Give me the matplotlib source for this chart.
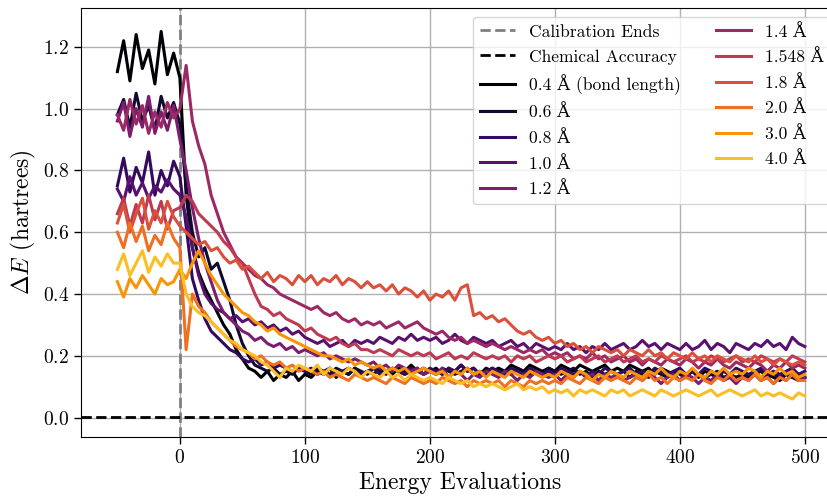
import numpy as np
import matplotlib
matplotlib.use("Agg")
import matplotlib.pyplot as plt

plt.rcParams['font.family'] = ['cmr10', 'DejaVu Serif']
plt.rcParams['mathtext.fontset'] = 'cm'
plt.rcParams['axes.unicode_minus'] = False
plt.rcParams['axes.formatter.use_mathtext'] = True

# Energy evaluations (calibration runs from -50 to 0)
evals = np.arange(-50, 501, 5)

labels = ['0.4 Å (bond length)', '0.6 Å', '0.8 Å', '1.0 Å', '1.2 Å',
          '1.4 Å', '1.548 Å', '1.8 Å', '2.0 Å', '3.0 Å', '4.0 Å']

d04 = [1.12, 1.22, 1.09, 1.24, 1.13, 1.19, 1.08, 1.25, 1.11, 1.18,
       1.10, 0.72, 0.55, 0.47, 0.42, 0.38, 0.34, 0.30, 0.27, 0.22,
       0.19, 0.16, 0.15, 0.13, 0.15, 0.12, 0.14, 0.13, 0.15, 0.12,
       0.14, 0.13, 0.15, 0.14, 0.16, 0.13, 0.15, 0.14, 0.16, 0.14,
       0.15, 0.14, 0.16, 0.15, 0.14, 0.16, 0.15, 0.17, 0.15, 0.16,
       0.15, 0.16, 0.14, 0.16, 0.15, 0.17, 0.15, 0.16, 0.14, 0.16,
       0.15, 0.16, 0.15, 0.17, 0.16, 0.15, 0.17, 0.16, 0.15, 0.16,
       0.15, 0.17, 0.16, 0.15, 0.17, 0.16, 0.15, 0.16, 0.17, 0.15,
       0.16, 0.15, 0.17, 0.16, 0.15, 0.16, 0.14, 0.16, 0.15, 0.14,
       0.15, 0.14, 0.15, 0.13, 0.15, 0.14, 0.13, 0.15, 0.14, 0.13,
       0.14, 0.13, 0.14, 0.12, 0.14, 0.13, 0.12, 0.14, 0.13, 0.12,
       0.13]
d06 = [0.98, 1.03, 0.94, 1.05, 0.96, 1.01, 0.93, 1.04, 0.97, 1.02,
       0.95, 0.75, 0.60, 0.52, 0.55, 0.48, 0.50, 0.44, 0.38, 0.30,
       0.24, 0.20, 0.17, 0.16, 0.15, 0.16, 0.14, 0.15, 0.14, 0.16,
       0.15, 0.14, 0.16, 0.15, 0.14, 0.16, 0.15, 0.14, 0.16, 0.15,
       0.14, 0.16, 0.15, 0.14, 0.16, 0.15, 0.14, 0.15, 0.16, 0.14,
       0.15, 0.14, 0.16, 0.15, 0.14, 0.15, 0.16, 0.14, 0.15, 0.14,
       0.16, 0.14, 0.15, 0.14, 0.16, 0.15, 0.14, 0.15, 0.14, 0.16,
       0.15, 0.14, 0.15, 0.16, 0.14, 0.15, 0.13, 0.15, 0.14, 0.15,
       0.14, 0.15, 0.13, 0.15, 0.14, 0.13, 0.15, 0.14, 0.13, 0.15,
       0.14, 0.13, 0.15, 0.14, 0.13, 0.14, 0.15, 0.13, 0.14, 0.13,
       0.14, 0.13, 0.14, 0.15, 0.13, 0.14, 0.13, 0.14, 0.13, 0.14,
       0.13]
d08 = [0.75, 0.84, 0.73, 0.81, 0.76, 0.86, 0.72, 0.80, 0.75, 0.83,
       0.78, 0.62, 0.45, 0.38, 0.32, 0.28, 0.26, 0.24, 0.22, 0.21,
       0.19, 0.18, 0.19, 0.17, 0.18, 0.16, 0.17, 0.16, 0.15, 0.16,
       0.15, 0.16, 0.14, 0.15, 0.16, 0.14, 0.15, 0.16, 0.15, 0.14,
       0.15, 0.16, 0.14, 0.15, 0.16, 0.15, 0.14, 0.16, 0.15, 0.14,
       0.16, 0.15, 0.14, 0.16, 0.15, 0.17, 0.15, 0.16, 0.14, 0.15,
       0.16, 0.15, 0.14, 0.16, 0.15, 0.14, 0.16, 0.15, 0.14, 0.15,
       0.14, 0.16, 0.15, 0.14, 0.15, 0.13, 0.15, 0.14, 0.16, 0.15,
       0.14, 0.15, 0.16, 0.14, 0.15, 0.14, 0.16, 0.15, 0.14, 0.15,
       0.16, 0.14, 0.15, 0.14, 0.16, 0.15, 0.14, 0.15, 0.14, 0.16,
       0.15, 0.14, 0.15, 0.16, 0.14, 0.15, 0.14, 0.15, 0.16, 0.14,
       0.15]
d10 = [0.74, 0.70, 0.78, 0.72, 0.76, 0.71, 0.75, 0.73, 0.77, 0.74,
       0.72, 0.65, 0.55, 0.46, 0.40, 0.37, 0.35, 0.34, 0.32, 0.33,
       0.31, 0.32, 0.30, 0.31, 0.29, 0.30, 0.28, 0.29, 0.27, 0.28,
       0.26, 0.25, 0.24, 0.25, 0.23, 0.24, 0.25, 0.23, 0.25, 0.24,
       0.25, 0.24, 0.26, 0.25, 0.24, 0.26, 0.25, 0.27, 0.25, 0.26,
       0.25, 0.26, 0.24, 0.25, 0.27, 0.25, 0.24, 0.26, 0.25, 0.24,
       0.25, 0.23, 0.24, 0.25, 0.23, 0.24, 0.22, 0.24, 0.23, 0.22,
       0.23, 0.22, 0.24, 0.22, 0.23, 0.21, 0.23, 0.22, 0.24, 0.22,
       0.23, 0.24, 0.22, 0.23, 0.25, 0.23, 0.24, 0.22, 0.24, 0.23,
       0.22, 0.24, 0.22, 0.23, 0.25, 0.22, 0.24, 0.23, 0.21, 0.24,
       0.23, 0.22, 0.24, 0.23, 0.25, 0.23, 0.24, 0.22, 0.26, 0.24,
       0.23]
d12 = [0.96, 1.02, 0.91, 1.00, 0.94, 1.04, 0.92, 0.99, 0.93, 1.01,
       0.90, 0.80, 0.68, 0.58, 0.50, 0.44, 0.38, 0.34, 0.32, 0.30,
       0.28, 0.27, 0.25, 0.26, 0.24, 0.23, 0.24, 0.22, 0.23, 0.21,
       0.22, 0.21, 0.20, 0.21, 0.19, 0.20, 0.19, 0.18, 0.19, 0.18,
       0.17, 0.18, 0.16, 0.17, 0.15, 0.17, 0.16, 0.15, 0.16, 0.14,
       0.15, 0.14, 0.16, 0.13, 0.15, 0.14, 0.12, 0.14, 0.13, 0.15,
       0.14, 0.13, 0.15, 0.14, 0.12, 0.14, 0.13, 0.15, 0.14, 0.13,
       0.14, 0.12, 0.14, 0.13, 0.15, 0.13, 0.14, 0.12, 0.14, 0.13,
       0.14, 0.12, 0.13, 0.14, 0.12, 0.14, 0.13, 0.11, 0.13, 0.14,
       0.12, 0.14, 0.13, 0.11, 0.13, 0.12, 0.14, 0.12, 0.13, 0.11,
       0.13, 0.12, 0.14, 0.12, 0.13, 0.11, 0.13, 0.12, 0.14, 0.12,
       0.13]
d14 = [0.98, 0.93, 1.03, 0.95, 1.01, 0.92, 0.99, 0.94, 1.02, 0.97,
       1.00, 1.14, 0.96, 0.88, 0.82, 0.72, 0.66, 0.60, 0.56, 0.52,
       0.50, 0.48, 0.46, 0.45, 0.43, 0.42, 0.40, 0.39, 0.38, 0.37,
       0.36, 0.35, 0.36, 0.34, 0.33, 0.34, 0.32, 0.31, 0.32, 0.30,
       0.31, 0.30, 0.31, 0.29, 0.30, 0.31, 0.29, 0.30, 0.31, 0.29,
       0.28, 0.27, 0.28, 0.26, 0.25, 0.26, 0.24, 0.25, 0.24, 0.23,
       0.24, 0.23, 0.22, 0.23, 0.22, 0.21, 0.22, 0.21, 0.22, 0.20,
       0.21, 0.20, 0.21, 0.19, 0.20, 0.19, 0.21, 0.19, 0.20, 0.18,
       0.19, 0.20, 0.18, 0.19, 0.17, 0.19, 0.18, 0.17, 0.19, 0.18,
       0.17, 0.19, 0.18, 0.16, 0.18, 0.17, 0.19, 0.17, 0.16, 0.18,
       0.17, 0.16, 0.18, 0.17, 0.15, 0.17, 0.16, 0.18, 0.16, 0.17,
       0.16]
d1548 = [0.66, 0.71, 0.62, 0.69, 0.63, 0.72, 0.64, 0.70, 0.61, 0.67,
         0.68, 0.72, 0.70, 0.66, 0.64, 0.62, 0.60, 0.57, 0.55, 0.52,
         0.50, 0.45, 0.40, 0.36, 0.35, 0.33, 0.34, 0.32, 0.31, 0.30,
         0.28, 0.29, 0.27, 0.26, 0.25, 0.26, 0.24, 0.23, 0.24, 0.22,
         0.22, 0.21, 0.22, 0.21, 0.20, 0.22, 0.21, 0.20, 0.21, 0.20,
         0.21, 0.19, 0.20, 0.21, 0.19, 0.20, 0.19, 0.21, 0.20, 0.19,
         0.20, 0.19, 0.20, 0.18, 0.20, 0.19, 0.20, 0.18, 0.19, 0.20,
         0.19, 0.20, 0.18, 0.19, 0.20, 0.18, 0.19, 0.20, 0.18, 0.19,
         0.20, 0.18, 0.19, 0.20, 0.18, 0.19, 0.18, 0.20, 0.19, 0.18,
         0.19, 0.20, 0.18, 0.19, 0.18, 0.20, 0.19, 0.18, 0.19, 0.20,
         0.18, 0.19, 0.18, 0.20, 0.19, 0.18, 0.19, 0.18, 0.20, 0.19,
         0.18]
d18 = [0.63, 0.69, 0.60, 0.66, 0.71, 0.61, 0.67, 0.63, 0.70, 0.65,
       0.62, 0.60, 0.58, 0.56, 0.57, 0.54, 0.55, 0.52, 0.50, 0.51,
       0.48, 0.49, 0.47, 0.45, 0.47, 0.44, 0.46, 0.45, 0.43, 0.46,
       0.44, 0.46, 0.43, 0.45, 0.44, 0.46, 0.43, 0.45, 0.44, 0.42,
       0.44, 0.42, 0.43, 0.41, 0.43, 0.40, 0.42, 0.41, 0.39, 0.41,
       0.38, 0.40, 0.39, 0.41, 0.38, 0.42, 0.43, 0.33, 0.34, 0.32,
       0.33, 0.31, 0.32, 0.30, 0.28, 0.27, 0.28, 0.26, 0.25, 0.26,
       0.24, 0.25, 0.23, 0.24, 0.22, 0.23, 0.21, 0.23, 0.22, 0.21,
       0.22, 0.20, 0.22, 0.21, 0.20, 0.22, 0.20, 0.21, 0.19, 0.21,
       0.20, 0.19, 0.21, 0.19, 0.20, 0.18, 0.20, 0.19, 0.18, 0.20,
       0.19, 0.18, 0.20, 0.18, 0.19, 0.17, 0.19, 0.18, 0.17, 0.18,
       0.17]
d20 = [0.60, 0.55, 0.63, 0.57, 0.62, 0.54, 0.59, 0.56, 0.63, 0.58,
       0.55, 0.22, 0.40, 0.36, 0.34, 0.31, 0.29, 0.27, 0.25, 0.23,
       0.22, 0.21, 0.19, 0.20, 0.18, 0.17, 0.18, 0.16, 0.17, 0.15,
       0.16, 0.15, 0.14, 0.15, 0.13, 0.14, 0.13, 0.12, 0.14, 0.13,
       0.12, 0.13, 0.12, 0.11, 0.13, 0.12, 0.11, 0.13, 0.12, 0.11,
       0.12, 0.11, 0.13, 0.12, 0.11, 0.12, 0.10, 0.12, 0.11, 0.12,
       0.11, 0.12, 0.10, 0.12, 0.11, 0.10, 0.12, 0.11, 0.12, 0.11,
       0.12, 0.11, 0.13, 0.12, 0.11, 0.13, 0.12, 0.11, 0.13, 0.12,
       0.13, 0.12, 0.11, 0.13, 0.12, 0.14, 0.12, 0.13, 0.11, 0.13,
       0.12, 0.13, 0.12, 0.14, 0.12, 0.11, 0.13, 0.12, 0.14, 0.12,
       0.13, 0.12, 0.14, 0.12, 0.13, 0.11, 0.13, 0.12, 0.14, 0.12,
       0.12]
d30 = [0.44, 0.39, 0.45, 0.42, 0.46, 0.43, 0.40, 0.45, 0.43, 0.44,
       0.48, 0.45, 0.50, 0.54, 0.50, 0.46, 0.43, 0.40, 0.38, 0.36,
       0.34, 0.33, 0.31, 0.30, 0.28, 0.29, 0.27, 0.26, 0.25, 0.24,
       0.23, 0.22, 0.21, 0.20, 0.20, 0.19, 0.18, 0.19, 0.17, 0.18,
       0.17, 0.16, 0.17, 0.15, 0.16, 0.15, 0.16, 0.14, 0.15, 0.16,
       0.15, 0.14, 0.15, 0.13, 0.15, 0.14, 0.16, 0.14, 0.15, 0.13,
       0.15, 0.14, 0.13, 0.15, 0.14, 0.13, 0.15, 0.14, 0.13, 0.14,
       0.13, 0.15, 0.14, 0.13, 0.15, 0.14, 0.12, 0.14, 0.13, 0.15,
       0.14, 0.13, 0.15, 0.14, 0.13, 0.15, 0.14, 0.16, 0.14, 0.13,
       0.15, 0.14, 0.16, 0.14, 0.13, 0.15, 0.14, 0.16, 0.14, 0.15,
       0.14, 0.16, 0.15, 0.13, 0.15, 0.14, 0.16, 0.14, 0.15, 0.13,
       0.14]
d40 = [0.48, 0.53, 0.46, 0.50, 0.54, 0.47, 0.52, 0.49, 0.53, 0.50,
       0.50, 0.40, 0.36, 0.34, 0.33, 0.31, 0.29, 0.27, 0.25, 0.24,
       0.22, 0.21, 0.20, 0.18, 0.17, 0.15, 0.13, 0.16, 0.15, 0.17,
       0.16, 0.15, 0.17, 0.14, 0.16, 0.15, 0.14, 0.16, 0.15, 0.13,
       0.15, 0.14, 0.13, 0.15, 0.13, 0.14, 0.12, 0.14, 0.13, 0.12,
       0.13, 0.12, 0.11, 0.13, 0.12, 0.11, 0.12, 0.10, 0.11, 0.10,
       0.11, 0.10, 0.09, 0.10, 0.11, 0.09, 0.10, 0.09, 0.10, 0.08,
       0.09, 0.08, 0.09, 0.07, 0.09, 0.08, 0.09, 0.08, 0.07, 0.09,
       0.08, 0.09, 0.07, 0.08, 0.09, 0.08, 0.07, 0.09, 0.08, 0.07,
       0.08, 0.09, 0.08, 0.07, 0.08, 0.09, 0.07, 0.08, 0.09, 0.08,
       0.07, 0.08, 0.09, 0.07, 0.08, 0.07, 0.08, 0.07, 0.06, 0.08,
       0.07]

series = [d04, d06, d08, d10, d12, d14, d1548, d18, d20, d30, d40]
chem_accuracy = 0.0016


def main():
    fig = plt.figure(figsize=(8.28, 4.98), dpi=100)
    # the original figure is cropped on the right, so the axes run past the edge
    ax = fig.add_axes([0.098, 0.123, 0.9155, 0.861])

    ax.axvline(0, color='gray', linestyle='--', linewidth=2, label='Calibration Ends')
    ax.axhline(chem_accuracy, color='black', linestyle='--', linewidth=2,
               label='Chemical Accuracy')

    colors = plt.cm.inferno(np.linspace(0, 0.85, len(series)))
    for vals, lab, c in zip(series, labels, colors):
        ax.plot(evals, vals, color=c, linewidth=2.2, label=lab)

    ax.set_xlim(-79, 527.5)
    ax.set_ylim(-0.062, 1.326)
    ax.set_xticks([0, 100, 200, 300, 400, 500])
    ax.set_yticks([0.0, 0.2, 0.4, 0.6, 0.8, 1.0, 1.2])
    ax.grid(True, color='#b0b0b0', linewidth=1)
    ax.tick_params(labelsize=14, length=5, width=1)
    ax.set_xlabel('Energy Evaluations', fontsize=17)
    ax.set_ylabel(r'$\Delta E$ (hartrees)', fontsize=17)
    ax.legend(ncol=2, loc='upper right', fontsize=12.6, framealpha=0.8,
              labelspacing=0.55)

    fig.savefig('out.png', dpi=100)


if __name__ == '__main__':
    main()
